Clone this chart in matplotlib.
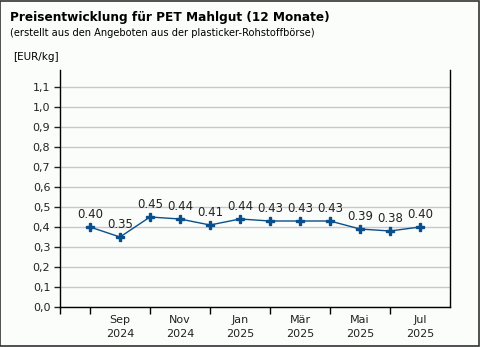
import matplotlib
matplotlib.use("Agg")
import matplotlib.pyplot as plt
from matplotlib.patches import Rectangle

# monthly prices EUR/kg, Aug 2024 .. Jul 2025
months = ["Aug\n2024", "Sep\n2024", "Okt\n2024", "Nov\n2024", "Dez\n2024", "Jan\n2025",
          "Feb\n2025", "Mär\n2025", "Apr\n2025", "Mai\n2025", "Jun\n2025", "Jul\n2025"]
prices = [0.40, 0.35, 0.45, 0.44, 0.41, 0.44, 0.43, 0.43, 0.43, 0.39, 0.38, 0.40]
yticks = [0.0, 0.1, 0.2, 0.3, 0.4, 0.5, 0.6, 0.7, 0.8, 0.9, 1.0, 1.1]

bg = "#fbfdfb"
blue = "#0b4f8a"

plt.rcParams['font.family'] = ['Verdana', 'DejaVu Sans']

fig = plt.figure(figsize=(4.8, 3.47), dpi=100, facecolor=bg)
ax = fig.add_axes([60/480, 1 - 307/347, 390/480, 237/347])
ax.set_facecolor(bg)

x = list(range(len(prices)))
ax.plot(x, prices, color=blue, lw=1, marker="P", ms=5.5, mfc=blue, mec=blue, zorder=3)
for xi, p in zip(x, prices):
    ax.annotate(f"{p:.2f}", (xi, p), xytext=(0, 4), textcoords="offset points",
                ha="center", va="bottom", fontsize=8.5, color="#222222")

ax.set_xlim(-1, 12)
ax.set_ylim(0, 1.185)

ax.set_yticks(yticks)
ax.set_yticklabels([f"{v:.1f}".replace(".", ",") for v in yticks], fontsize=8)
ax.yaxis.grid(True, color="#c8c8c8", lw=1)
ax.set_axisbelow(True)
ax.tick_params(axis="y", length=4, width=1, pad=3, colors="#222222")

# every other month gets a label, ticks for each month
ax.set_xticks(x[1::2])
ax.set_xticklabels(months[1::2], fontsize=8, linespacing=1.5)
ax.set_xticks(range(-1, 11), minor=True)
ax.tick_params(axis="x", which="major", length=0, pad=6, colors="#222222")
ax.tick_params(axis="x", which="minor", length=5, width=1, color="black")

ax.spines["top"].set_visible(False)
for s in ["left", "right", "bottom"]:
    ax.spines[s].set_color("black")
    ax.spines[s].set_linewidth(1)

fig.text(10/480, 1 - 17/347, "Preisentwicklung für PET Mahlgut (12 Monate)",
         fontsize=8.7, fontweight="bold", va="center", ha="left")
fig.text(10/480, 1 - 33/347, "(erstellt aus den Angeboten aus der plasticker-Rohstoffbörse)",
         fontsize=7.1, va="center", ha="left")
fig.text(13/480, 1 - 57/347, "[EUR/kg]", fontsize=7.5, va="center", ha="left")

fig.patches.append(Rectangle((0.001, 0.002), 0.997, 0.996, transform=fig.transFigure,
                             fill=False, edgecolor="#333333", lw=1.2))

fig.savefig("out.png", dpi=100, facecolor=bg)
